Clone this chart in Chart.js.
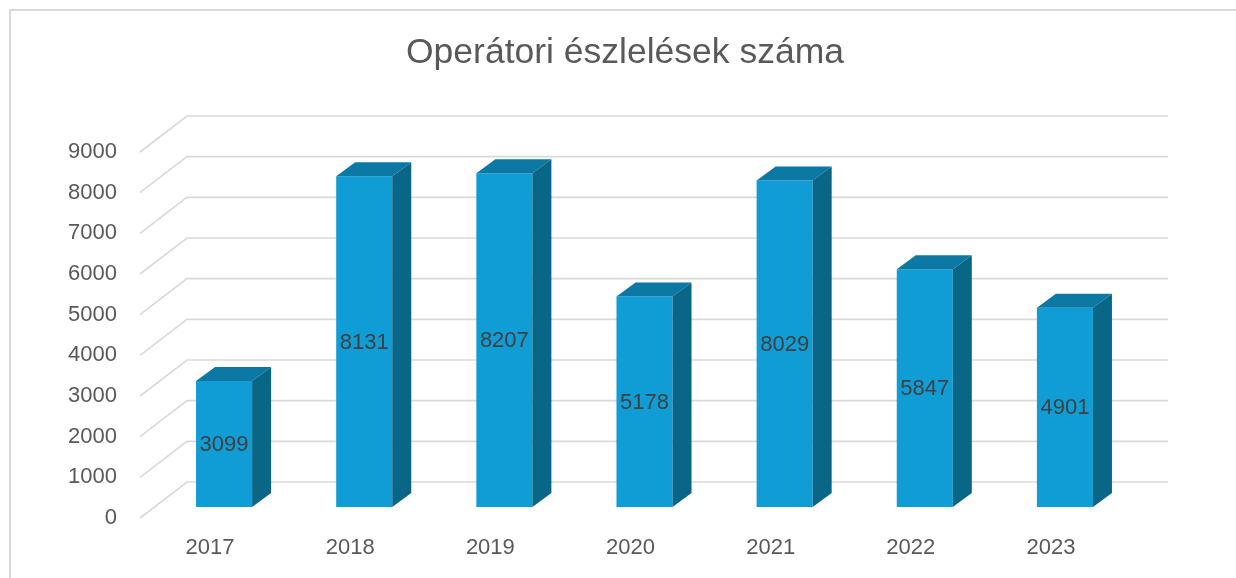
<!DOCTYPE html>
<html>
<head>
<meta charset="utf-8">
<script src="https://cdn.jsdelivr.net/npm/chart.js@4/dist/chart.umd.min.js"></script>
<style>
  html, body { margin: 0; padding: 0; background: #ffffff; }
  #wrap { width: 1236px; height: 578px; position: relative; }
</style>
</head>
<body>
<div id="wrap"><canvas id="c"></canvas></div>
<script>
const years = ['2017', '2018', '2019', '2020', '2021', '2022', '2023'];
const counts = [3099, 8131, 8207, 5178, 8029, 5847, 4901];
const yMin = 0;
const yMax = 9000;
const yStep = 1000;
const chartTitle = 'Operátori észlelések száma';

const FONT = "'Liberation Sans', Arial, sans-serif";
const TEXT = '#595959';
const GRID = '#d9d9d9';

// 3D depth: back wall offset, bar front offset, bar depth
const WALL = { dx: 47, dy: -36 };
const BAR_OFF = { dx: 14, dy: -11 };
const BAR_DEPTH = { dx: 19, dy: -14 };

// outer frame + title (centred on the whole canvas, like the original)
const frame = {
  id: 'frame',
  beforeDraw(chart) {
    const ctx = chart.ctx;
    ctx.save();
    ctx.strokeStyle = GRID;
    ctx.lineWidth = 2;
    ctx.beginPath();
    ctx.moveTo(10, chart.height);
    ctx.lineTo(10, 10);
    ctx.lineTo(chart.width, 10);
    ctx.stroke();
    ctx.fillStyle = TEXT;
    ctx.font = '35.5px ' + FONT;
    ctx.textAlign = 'center';
    ctx.textBaseline = 'middle';
    ctx.fillText(chartTitle, 625, 53);
    ctx.restore();
  }
};

const box3d = {
  id: 'box3d',
  beforeDatasetsDraw(chart) {
    const ctx = chart.ctx;
    const area = chart.chartArea;
    const y = chart.scales.y;
    ctx.save();
    ctx.strokeStyle = GRID;
    ctx.lineWidth = 1.6;
    y.ticks.forEach(t => {
      const py = y.getPixelForValue(t.value);
      ctx.beginPath();
      ctx.moveTo(area.left, py);
      ctx.lineTo(area.left + WALL.dx, py + WALL.dy);
      ctx.lineTo(area.right + WALL.dx, py + WALL.dy);
      ctx.stroke();
    });
    ctx.restore();
    ctx.save();
    ctx.translate(BAR_OFF.dx, BAR_OFF.dy);
  },
  afterDatasetsDraw(chart) {
    const ctx = chart.ctx;
    const meta = chart.getDatasetMeta(0);
    meta.data.forEach((bar, i) => {
      const p = bar.getProps(['x', 'y', 'base', 'width'], true);
      const l = p.x - p.width / 2, r = p.x + p.width / 2;
      // top face
      ctx.fillStyle = '#0b79a4';
      ctx.beginPath();
      ctx.moveTo(l, p.y);
      ctx.lineTo(r, p.y);
      ctx.lineTo(r + BAR_DEPTH.dx, p.y + BAR_DEPTH.dy);
      ctx.lineTo(l + BAR_DEPTH.dx, p.y + BAR_DEPTH.dy);
      ctx.closePath();
      ctx.fill();
      // side face
      ctx.fillStyle = '#0a6686';
      ctx.beginPath();
      ctx.moveTo(r, p.y);
      ctx.lineTo(r + BAR_DEPTH.dx, p.y + BAR_DEPTH.dy);
      ctx.lineTo(r + BAR_DEPTH.dx, p.base + BAR_DEPTH.dy);
      ctx.lineTo(r, p.base);
      ctx.closePath();
      ctx.fill();
      // value label
      ctx.fillStyle = '#404040';
      ctx.font = '22px ' + FONT;
      ctx.textAlign = 'center';
      ctx.textBaseline = 'middle';
      ctx.fillText(String(counts[i]), p.x, (p.y + p.base) / 2 + 1);
    });
    ctx.restore();
  }
};

new Chart(document.getElementById('c'), {
  type: 'bar',
  data: {
    labels: years,
    datasets: [{
      data: counts,
      backgroundColor: '#109dd5',
      borderWidth: 0,
      barPercentage: 0.4,
      categoryPercentage: 1,
      clip: false
    }]
  },
  options: {
    responsive: true,
    maintainAspectRatio: false,
    animation: false,
    layout: { padding: { left: 0, right: 115, top: 152, bottom: 0 } },
    scales: {
      x: {
        grid: { display: false, drawTicks: false },
        border: { display: false },
        ticks: { color: TEXT, font: { family: FONT, size: 22 }, padding: 17, maxRotation: 0 },
        afterFit(scale) { scale.height = 60; }
      },
      y: {
        min: yMin,
        max: yMax,
        grid: { display: false, drawTicks: false },
        border: { display: false },
        ticks: {
          stepSize: yStep,
          color: TEXT,
          font: { family: FONT, size: 22 },
          padding: 23,
          callback: v => String(v)
        },
        afterFit(scale) { scale.width = 140; }
      }
    },
    plugins: {
      legend: { display: false },
      tooltip: { enabled: false },
      title: { display: false }
    }
  },
  plugins: [frame, box3d]
});
</script>
</body>
</html>
